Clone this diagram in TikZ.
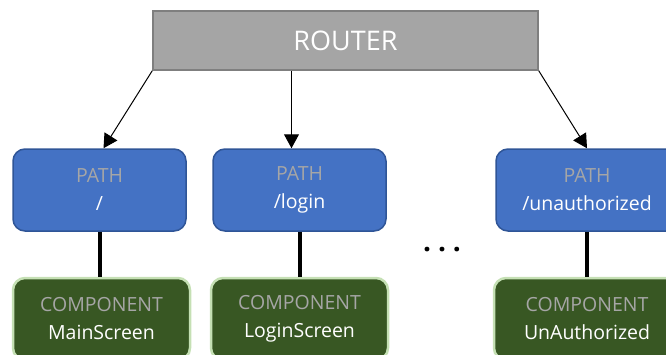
\documentclass[tikz,border=0pt]{standalone}
\usepackage{fontspec}
\setmainfont{Open Sans}
\usepackage{tikz}
\usetikzlibrary{arrows.meta,positioning}
\definecolor{grisRouter}{RGB}{165,165,165}
\definecolor{bordeRouter}{RGB}{127,127,127}
\definecolor{azulPath}{RGB}{68,114,196}
\definecolor{bordePath}{RGB}{47,85,151}
\definecolor{verdeComp}{RGB}{56,87,35}
\definecolor{bordeComp}{RGB}{197,224,180}
\definecolor{grisTexto}{RGB}{166,166,166}
\tikzstyle{router}=[rectangle, draw=bordeRouter, fill=grisRouter,
                    line width=1.5pt, minimum width=385pt, minimum height=59pt,
                    text=white, font=\fontsize{27}{27}\selectfont]
\tikzstyle{ruta}  =[rectangle, rounded corners=12pt, draw=bordePath,
                    fill=azulPath, line width=1.5pt, minimum height=82pt,
                    align=center, text=white, font=\fontsize{19.5}{28}\selectfont]
\tikzstyle{comp}  =[rectangle, rounded corners=12pt, draw=bordeComp,
                    fill=verdeComp, line width=2.5pt, minimum height=82pt,
                    align=center, text=white, font=\fontsize{19.5}{28}\selectfont]
\tikzstyle{flecha}=[-{Triangle[width=15pt,length=14pt]}, line width=1pt]
\tikzstyle{enlace}=[line width=4pt]

\begin{document}
\begin{tikzpicture}[x=1pt,y=-1pt]
    \useasboundingbox (0,0) rectangle (666,354);

    \draw (345.5,40.5) node (router) [router] {ROUTER};

    \draw (99.5,190) node (p1) [ruta, minimum width=173pt] {\textcolor{grisTexto}{PATH}\\/};
    \draw (299.5,190) node (p2) [ruta, minimum width=173pt] {\textcolor{grisTexto}{PATH}\\/login};
    \draw (587,190) node (p3) [ruta, minimum width=182pt] {\textcolor{grisTexto}{PATH}\\/unauthorized};

    \draw (101.5,319) node (c1) [comp, minimum width=177pt] {\textcolor{grisTexto}{COMPONENT}\\MainScreen};
    \draw (299.5,319) node (c2) [comp, minimum width=177pt] {\textcolor{grisTexto}{COMPONENT}\\LoginScreen};
    \draw (587,319) node (c3) [comp, minimum width=186pt] {\textcolor{grisTexto}{COMPONENT}\\UnAuthorized};

    \draw (442,250) node (puntos) {\fontsize{28}{28}\selectfont\bfseries .\hspace{7pt}.\hspace{7pt}.};

    \foreach \i in {1,2,3}
        \draw [enlace] (p\i.south) -- (p\i.south |- c\i.north);

    \draw [flecha] (router.south west) -- ([xshift=4pt]p1.north);
    \draw [flecha] ([xshift=-8pt]p2.north |- router.south) -- ([xshift=-8pt]p2.north);
    \draw [flecha] (router.south east) -- (p3.north);
\end{tikzpicture}
\end{document}
